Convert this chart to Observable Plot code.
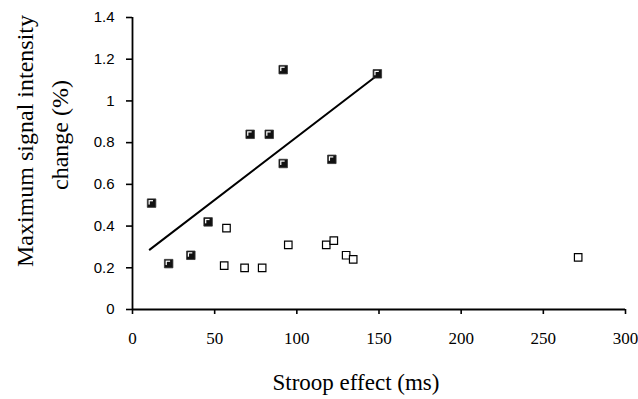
<!DOCTYPE html>
<html><head><meta charset="utf-8">
<script src="https://cdn.jsdelivr.net/npm/d3@7"></script>
<script src="https://cdn.jsdelivr.net/npm/@observablehq/plot@0.6"></script>
<style>body{margin:0;background:#fff} svg{display:block}</style>
</head><body><div id="chart"></div>
<script>
const filledX = [11.6, 22, 35.5, 46, 71.6, 83.2, 91.7, 91.7, 121.3, 149];
const filledY = [0.51, 0.22, 0.26, 0.42, 0.84, 0.84, 1.15, 0.70, 0.72, 1.13];
const openX = [55.8, 57.2, 68.2, 78.9, 94.8, 117.9, 122.5, 130, 134.3, 271.2];
const openY = [0.21, 0.39, 0.20, 0.20, 0.31, 0.31, 0.33, 0.26, 0.24, 0.25];
const fitX = [10.5, 148];
const fitY = [0.287, 1.117];
const xTicks = [0, 50, 100, 150, 200, 250, 300];
const yTicks = [0, 0.2, 0.4, 0.6, 0.8, 1, 1.2, 1.4];
const xTitle = "Stroop effect (ms)";
const yTitle = ["Maximum signal intensity", "change (%)"];

const filled = filledX.map((x, i) => ({x, y: filledY[i]}));
const open = openX.map((x, i) => ({x, y: openY[i]}));
const fit = fitX.map((x, i) => ({x, y: fitY[i]}));

const SERIF = "'Liberation Serif', 'Times New Roman', serif";
const SANS = "'Liberation Sans', Arial, sans-serif";
const side2r = s => s / Math.sqrt(Math.PI);

const plot = Plot.plot({
  width: 638, height: 399,
  marginLeft: 132, marginRight: 13, marginTop: 17, marginBottom: 90,
  style: {background: "#fff", color: "#000", fontFamily: SERIF},
  x: {domain: [0, 300], axis: null},
  y: {domain: [0, 1.4], axis: null},
  marks: [
    Plot.axisX({ticks: xTicks, tickSize: 5, tickPadding: 17, tickFormat: d => String(d),
      label: null, fontFamily: SERIF, fontSize: 17, strokeWidth: 1.6, stroke: "#000", fill: "#000"}),
    Plot.axisY({ticks: yTicks, tickSize: 6, tickPadding: 12, tickFormat: d => String(d),
      label: null, fontFamily: SANS, fontSize: 15, strokeWidth: 1.6, stroke: "#000", fill: "#000"}),
    Plot.ruleX([0], {y1: 0, y2: 1.4, stroke: "#000", strokeWidth: 1.8}),
    Plot.ruleY([0], {x1: 0, x2: 300, stroke: "#000", strokeWidth: 1.8}),
    Plot.line(fit, {x: "x", y: "y", stroke: "#000", strokeWidth: 2}),
    Plot.dot(open, {x: "x", y: "y", symbol: "square", r: side2r(7.5), fill: "#fff", stroke: "#000", strokeWidth: 1.2}),
    Plot.dot(filled, {x: "x", y: "y", symbol: "square", r: side2r(8.5), fill: "#111", stroke: "#333", strokeWidth: 0.8}),
    Plot.dot(filled, {x: "x", y: "y", symbol: "square", r: side2r(4.5), fill: "#fff", dx: -0.8, dy: -0.8}),
    Plot.dot(filled, {x: "x", y: "y", symbol: "square", r: side2r(4), fill: "#111", dx: 0.2, dy: 0.2})
  ]
});

const svg = d3.select(plot);
svg.append("text")
  .attr("x", 356).attr("y", 390)
  .attr("text-anchor", "middle")
  .attr("font-family", SERIF).attr("font-size", 23).attr("fill", "#000")
  .text(xTitle);
svg.append("text")
  .attr("transform", "translate(33,141) rotate(-90)")
  .attr("text-anchor", "middle")
  .attr("font-family", SERIF).attr("font-size", 24).attr("fill", "#000")
  .text(yTitle[0]);
svg.append("text")
  .attr("transform", "translate(68,135) rotate(-90)")
  .attr("text-anchor", "middle")
  .attr("font-family", SERIF).attr("font-size", 24).attr("fill", "#000")
  .text(yTitle[1]);

document.getElementById("chart").appendChild(plot);
</script>
</body></html>
